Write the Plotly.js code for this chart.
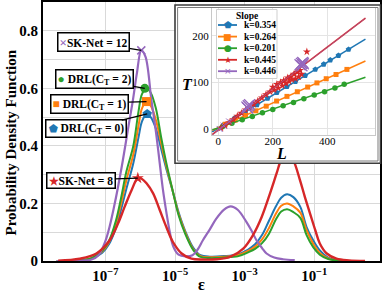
<!DOCTYPE html>
<html><head><meta charset="utf-8">
<script src="https://cdn.plot.ly/plotly-3.0.1.min.js"></script>
<style>html,body{margin:0;padding:0;background:#fff;}#chart{width:391px;height:293px;}</style>
</head><body><div id="chart"></div>
<script>
// ---------- main chart data (x stored as log10 of epsilon) ----------
const drlLogEps = [-8.4,-7.8,-7.4,-7.1,-6.9,-6.7,-6.55,-6.4,-6.2,-6.05,-5.95,-5.82,-5.7,-5.55,-5.4,-5.25,-5.06,-4.9,-4.71,-4.47,-4.27,-4.0,-3.6,-3.2,-2.9,-2.7,-2.5,-2.3,-2.1,-1.95,-1.78,-1.6,-1.4,-1.22,-1.03,-0.84,-0.6,-0.3,-0.1];
const drl0Density = [0,0.002,0.009,0.028,0.058,0.115,0.18,0.25,0.34,0.43,0.485,0.511,0.5,0.46,0.39,0.32,0.24,0.17,0.105,0.045,0.02,0.015,0.017,0.023,0.04,0.058,0.09,0.14,0.19,0.22,0.232,0.222,0.188,0.118,0.072,0.037,0.012,0.002,0];
const drl1Density = [0,0.002,0.01,0.032,0.065,0.13,0.2,0.28,0.37,0.47,0.53,0.554,0.54,0.49,0.41,0.33,0.24,0.165,0.1,0.04,0.017,0.013,0.015,0.02,0.035,0.05,0.075,0.115,0.165,0.192,0.2,0.19,0.168,0.107,0.06,0.028,0.009,0.001,0];
const drl2Density = [0,0.002,0.01,0.035,0.07,0.14,0.22,0.31,0.40,0.52,0.58,0.6,0.585,0.53,0.43,0.34,0.24,0.16,0.095,0.037,0.014,0.01,0.012,0.016,0.03,0.042,0.062,0.095,0.145,0.172,0.18,0.17,0.15,0.09,0.048,0.022,0.007,0.001,0];
const sk12LogEps = [-8.4,-7.8,-7.4,-7.2,-7.0,-6.88,-6.75,-6.65,-6.5,-6.35,-6.21,-6.1,-5.97,-5.85,-5.68,-5.55,-5.45,-5.35,-5.25,-5.15,-5.05,-4.9,-4.7,-4.5,-4.35,-4.2,-4.0,-3.81,-3.6,-3.4,-3.2,-2.95,-2.8,-2.66,-2.5,-2.37,-2.15,-1.9,-1.56];
const sk12Density = [0,0.001,0.005,0.02,0.07,0.12,0.19,0.25,0.35,0.46,0.56,0.65,0.732,0.71,0.56,0.45,0.35,0.25,0.17,0.1,0.05,0.022,0.016,0.02,0.04,0.072,0.11,0.148,0.178,0.19,0.178,0.136,0.105,0.072,0.045,0.026,0.012,0.006,0.003];
const sk8LogEps = [-8.36,-7.74,-7.26,-6.88,-6.64,-6.45,-6.25,-6.07,-5.95,-5.82,-5.63,-5.44,-5.25,-5.06,-4.81,-4.53,-4.2,-3.8,-3.42,-3.04,-2.76,-2.51,-2.27,-2.08,-1.94,-1.78,-1.6,-1.41,-1.27,-1.12,-0.97,-0.84,-0.64,-0.36,0.0,0.46];
const sk8Density = [0.001,0.008,0.026,0.072,0.13,0.188,0.246,0.288,0.285,0.27,0.235,0.177,0.118,0.066,0.026,0.008,0.005,0.006,0.014,0.043,0.09,0.153,0.235,0.305,0.355,0.38,0.35,0.281,0.223,0.165,0.107,0.061,0.026,0.008,0.002,0];
// peak labels: order SK-Net=12, DRL(CT=2), DRL(CT=1), DRL(CT=0), SK-Net=8
const peakLogEps = [-5.97,-5.87,-5.82,-5.8,-6.07];
const peakDensity = [0.732,0.6,0.554,0.511,0.288];
const xTickVals = [1e-7,1e-5,1e-3,1e-1];
const xTickText = ['10<sup>\u22127</sup>','10<sup>\u22125</sup>','10<sup>\u22123</sup>','10<sup>\u22121</sup>'];
const yTickVals = [0,0.2,0.4,0.6,0.8];
const yTickText = ['0','0.2','0.4','0.6','0.8'];

// ---------- inset data: T vs L ----------
const fitL = [-22,540];
const fitT354 = [-6,193];
const fitT264 = [-3,146];
const fitT201 = [-2,111];
const fitT445 = [-12,238];
const fitT446 = [-13,238];
const k354L = [20,60,99,142,181,215,252,283,319,356,387,411,441,478];
const k354T = [9,23,37,52,66,78,91,102,115,128,139,148,158,171];
const k264L = [25,62,100,138,176,214,252,290,328,362,396,432,472];
const k264T = [10,19,29,39,49,60,70,80,90,99,108,117,128];
const k201L = [15,50,88,125,162,200,238,276,314,352,390,428,462];
const k201T = [5,12,20,27,35,42,50,57,65,73,80,88,96];
const k445L = [10,25,40,55,70,85,100,115,130,145,160,175,190,200,205,215,220,228,235,240,248,255,260,265,270,278,283,290,295,300,305,325];
const k445T = [2,8,14,20,28,34,41,46,53,60,67,74,80,90,84,96,88,100,93,104,98,110,102,112,106,118,108,122,112,126,118,166];
const k446SmallL = [5,20,40];
const k446SmallT = [0,7,16];
const k446BigL = [105,110,115,108,300,305,310,307,312];
const k446BigT = [47,50,52,45,138,141,143,136,140];
const slopeLabels = ['k=0.354','k=0.264','k=0.201','k=0.445','k=0.446'];

const C = {blue:'#1f77b4',orange:'#ff7f0e',green:'#2ca02c',red:'#d62728',purple:'#9467bd'};
const SERIF = 'Liberation Serif, Times New Roman, serif';
const toEps = a => a.map(v => Math.pow(10, v));

// plot area in px: left 43, right 380, top 2, bottom 261
const PL=43, PR=380, PT=2, PB=261, W=391, H=293;
const px = x => (x-PL)/(PR-PL);
const py = y => (PB-y)/(PB-PT);

const traces = [];
function curve(lx, d, col, w){
  traces.push({type:'scatter',mode:'lines',x:toEps(lx),y:d,line:{color:col,width:w,shape:'spline',smoothing:1},hoverinfo:'skip',showlegend:false,cliponaxis:true});
}
curve(drlLogEps, drl0Density, C.blue, 2);
curve(drlLogEps, drl1Density, C.orange, 2);
curve(drlLogEps, drl2Density, C.green, 2);
curve(sk12LogEps, sk12Density, C.purple, 2.2);
curve(sk8LogEps, sk8Density, C.red, 2.4);
const peakSym = [
  {symbol:'x-thin-open',color:C.purple,size:8,line:{color:C.purple,width:1.5}},
  {symbol:'circle',color:C.green,size:9},
  {symbol:'square',color:C.orange,size:9},
  {symbol:'pentagon',color:C.blue,size:10},
  {symbol:'star',color:C.red,size:9}
];
peakSym.forEach((m,i)=>{
  traces.push({type:'scatter',mode:'markers',x:[Math.pow(10,peakLogEps[i])],y:[peakDensity[i]],marker:m,showlegend:false,hoverinfo:'skip',cliponaxis:false});
});
// cover subplot (keeps inset opaque)
traces.push({type:'scatter',mode:'markers',x:[],y:[],xaxis:'x2',yaxis:'y2',showlegend:false,hoverinfo:'skip'});
// inset
function fit(T,col,w){traces.push({type:'scatter',mode:'lines',x:fitL,y:T,xaxis:'x3',yaxis:'y3',line:{color:col,width:w},showlegend:false,hoverinfo:'skip'});}
function pts(L,T,m){traces.push({type:'scatter',mode:'markers',x:L,y:T,xaxis:'x3',yaxis:'y3',marker:m,showlegend:false,hoverinfo:'skip'});}
fit(fitT354,C.blue,1.5); pts(k354L,k354T,{symbol:'pentagon',size:6,color:C.blue});
fit(fitT264,C.orange,1.5); pts(k264L,k264T,{symbol:'square',size:5,color:C.orange});
fit(fitT201,C.green,1.5); pts(k201L,k201T,{symbol:'circle',size:5.5,color:C.green});
fit(fitT445,C.red,1.6); pts(k445L,k445T,{symbol:'star',size:6,color:C.red});
fit(fitT446,'rgba(148,103,189,0.55)',1);
pts(k446SmallL,k446SmallT,{symbol:'x-thin-open',size:6,color:C.purple,line:{color:C.purple,width:1}});
pts(k446BigL,k446BigT,{symbol:'x-thin-open',size:11,color:C.purple,line:{color:C.purple,width:1.3}});

const boxFont = {family:SERIF,size:11.5,color:'#000',weight:'bold'};
function peakAnn(i, text, ax, ay){
  return {x:peakLogEps[i],y:peakDensity[i],xref:'x',yref:'y',ax:ax,ay:ay,axref:'pixel',ayref:'pixel',
    text:text,showarrow:true,arrowhead:0,arrowwidth:1.2,arrowcolor:'#000',standoff:0,
    bordercolor:'#000',borderwidth:1.5,borderpad:1,bgcolor:'#fff',font:boxFont};
}
const g = (col, ch, sz) => '<span style="color:'+col+';font-size:'+sz+'px">'+ch+'</span>';
const annotations = [
  peakAnn(0, g(C.purple,'\u00d7',13)+'SK-Net = 12',-48,-8),
  peakAnn(1, g(C.green,'\u25cf',12)+' DRL(C<sub>T</sub> = 2)',-50,-9),
  peakAnn(2, g(C.orange,'\u25a0',12)+' DRL(C<sub>T</sub> = 1)',-57,2),
  peakAnn(3, g(C.blue,'\u2b1f',10)+' DRL(C<sub>T</sub> = 0)',-61,15),
  peakAnn(4, g(C.red,'\u2605',11)+'SK-Net = 8',-57,2),
  {xref:'paper',yref:'paper',x:px(10),y:py(142.5),text:'Probability Density Function',textangle:-90,showarrow:false,xanchor:'center',yanchor:'middle',font:{family:SERIF,size:15,color:'#000',weight:'bold'}},
  {xref:'paper',yref:'paper',x:px(201),y:py(284),text:'\u03b5',showarrow:false,xanchor:'center',yanchor:'middle',font:{family:SERIF,size:16,color:'#000',weight:'bold'}},
  {xref:'paper',yref:'paper',x:px(187),y:py(84),text:'<i>T</i>',showarrow:false,xanchor:'center',yanchor:'middle',font:{family:SERIF,size:16,color:'#000',weight:'bold'}},
  {xref:'paper',yref:'paper',x:px(281),y:py(153),text:'<i>L</i>',showarrow:false,xanchor:'center',yanchor:'middle',font:{family:SERIF,size:16,color:'#000',weight:'bold'}},
  {xref:'paper',yref:'paper',x:px(246.5),y:py(15.5),text:'Slope',showarrow:false,xanchor:'center',yanchor:'middle',font:{family:SERIF,size:9.5,color:'#000',weight:'bold'}}
];
const legendRows = [25,36.6,48.2,59.8,71.2];
const legendCols = [C.blue,C.orange,C.green,C.red,C.purple];
const legendGlyph = ['\u2b1f','\u25a0','\u25cf','\u2605','\u00d7'];
const shapes = [
  {type:'rect',xref:'x2',yref:'y2',x0:0,x1:1,y0:0,y1:1,fillcolor:'#fff',line:{width:0},layer:'below'},
  {type:'rect',xref:'paper',yref:'paper',x0:px(175),x1:px(380.5),y0:py(163.3),y1:py(5),line:{color:'#3c3c3c',width:1.6},layer:'above'},
  {type:'rect',xref:'paper',yref:'paper',x0:px(177.6),x1:px(378),y0:py(161),y1:py(7.5),line:{color:'#7a7a7a',width:1},layer:'above'},
  {type:'rect',xref:'paper',yref:'paper',x0:px(216.5),x1:px(277),y0:py(78.5),y1:py(9.5),fillcolor:'rgba(255,255,255,0.92)',line:{color:'#cfcfcf',width:1},layer:'above'}
];
legendRows.forEach((yy,i)=>{
  shapes.push({type:'line',xref:'paper',yref:'paper',x0:px(218),x1:px(237),y0:py(yy),y1:py(yy),line:{color:legendCols[i],width:1.8},layer:'above'});
  annotations.push({xref:'paper',yref:'paper',x:px(227.5),y:py(yy),text:legendGlyph[i],showarrow:false,xanchor:'center',yanchor:'middle',font:{family:'DejaVu Sans',size:9,color:legendCols[i]}});
  annotations.push({xref:'paper',yref:'paper',x:px(241.5),y:py(yy),text:slopeLabels[i],showarrow:false,xanchor:'left',yanchor:'middle',font:{family:SERIF,size:9.5,color:'#000',weight:'bold'}});
});

const layout = {
  width:W,height:H,margin:{l:PL,r:W-PR,t:PT,b:H-PB,pad:0},
  paper_bgcolor:'#fff',plot_bgcolor:'#fff',showlegend:false,
  xaxis:{type:'log',range:[-8.795,0.89],tickmode:'array',tickvals:xTickVals,ticktext:xTickText,
    showgrid:true,gridcolor:'#d9d9d9',gridwidth:1,showline:true,linecolor:'#000',linewidth:2,mirror:true,ticks:'',zeroline:false,
    tickfont:{family:SERIF,size:15,color:'#000',weight:'bold'}},
  yaxis:{range:[0,0.9],tickmode:'array',tickvals:yTickVals,ticktext:yTickText,
    minor:{tickmode:'linear',tick0:0,dtick:0.1,showgrid:true,gridcolor:'#d9d9d9',ticks:''},
    showgrid:true,gridcolor:'#d9d9d9',gridwidth:1,showline:true,linecolor:'#000',linewidth:2,mirror:true,ticks:'',zeroline:false,
    tickfont:{family:SERIF,size:15,color:'#000',weight:'bold'}},
  xaxis2:{domain:[px(175),1],anchor:'y2',range:[0,1],visible:false,fixedrange:true},
  yaxis2:{domain:[py(163.3),py(5)],anchor:'x2',range:[0,1],visible:false,fixedrange:true},
  xaxis3:{domain:[px(212),px(375)],anchor:'y3',range:[-23,575],tickmode:'array',tickvals:[0,200,400],
    showgrid:true,gridcolor:'#e4e4e4',showline:true,linecolor:'#c8c8c8',linewidth:1,mirror:true,ticks:'',zeroline:false,
    ticklabelstandoff:-4,
    tickfont:{family:SERIF,size:11,color:'#000'}},
  yaxis3:{domain:[py(135),py(8)],anchor:'x3',range:[-13,260],tickmode:'array',tickvals:[0,100,200],
    showgrid:true,gridcolor:'#e4e4e4',showline:true,linecolor:'#c8c8c8',linewidth:1,mirror:true,ticks:'',zeroline:false,
    tickfont:{family:SERIF,size:11,color:'#000'}},
  annotations:annotations,shapes:shapes
};
Plotly.newPlot('chart',traces,layout,{staticPlot:true,displayModeBar:false});
</script></body></html>
